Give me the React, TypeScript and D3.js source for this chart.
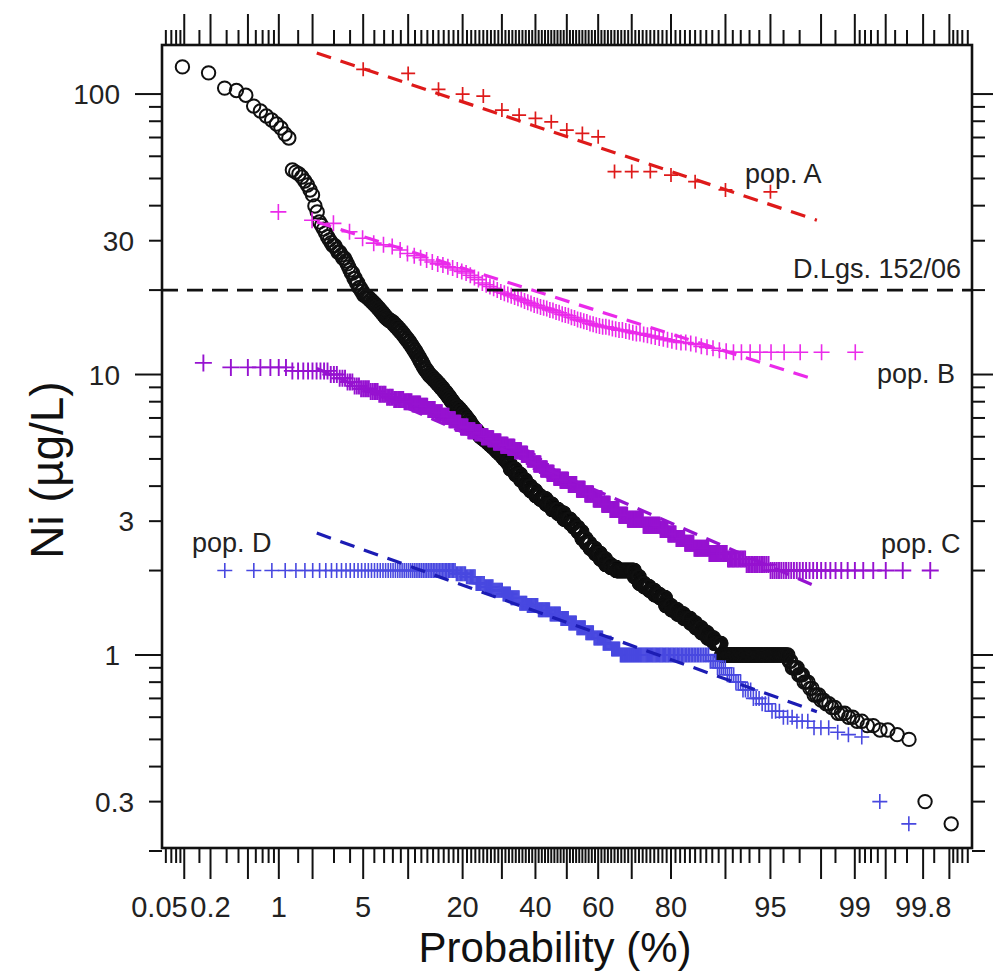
import React, { useEffect } from 'react';
import * as d3 from 'd3';

// ---------------- DATA ----------------
// Each series is ranked from the largest value; plotting position p = i / (N + 1)
// [value (µg/L), number of samples with that value]
const allSamples: [number, number][] = [
  [125, 1], [119, 1], [105, 1], [103, 1], [99, 1], [90.6, 1], [87, 1], [83.5, 1], [80.8, 1], [78.2, 1], [75.7, 1], [72, 1], [69.7, 1],
  [53.6, 1], [52.7, 1], [51.9, 1], [50.6, 1], [49, 1], [47.4, 1], [45.5, 1], [43.7, 1], [39.9, 1], [38, 1],
  [35, 1], [34, 1], [33, 1], [32, 1], [31, 1], [30.2, 1],
  [29.5, 1], [28.8, 2], [28, 1], [27.3, 2], [26.7, 1], [26, 2], [25.4, 1], [24.8, 1], [24.2, 1], [23.6, 1],
  [23, 2], [22, 2], [21.2, 2], [20.4, 2], [19.8, 2], [19.2, 2],
  [19, 2], [18.7, 2], [18.4, 2], [18.1, 2], [17.8, 2], [17.5, 2], [17.2, 2], [16.9, 2], [16.6, 2], [16.3, 2], [16, 2], [15.8, 2], [15.6, 3],
  [15.4, 3], [15.1, 3], [14.8, 3], [14.5, 3], [14.2, 3], [13.9, 3], [13.6, 3], [13.3, 3], [13, 3],
  [12.7, 3], [12.4, 3], [12.1, 3], [11.8, 3], [11.5, 3], [11.2, 3], [10.9, 3], [10.6, 3], [10.4, 3], [10.2, 3], [10, 3],
  [9.85, 4], [9.7, 3], [9.55, 4], [9.4, 3], [9.25, 4], [9.1, 3], [8.95, 4], [8.8, 3], [8.65, 4], [8.5, 3], [8.35, 4], [8.2, 3], [8.05, 4], [7.9, 3], [7.8, 3],
  [7.7, 5], [7.55, 5], [7.4, 5], [7.25, 5], [7.1, 5], [6.95, 5], [6.8, 5], [6.65, 4], [6.5, 5], [6.4, 4], [6.3, 5], [6.2, 4], [6.1, 4],
  [6, 7], [5.9, 7], [5.8, 7], [5.7, 6], [5.6, 7], [5.5, 7], [5.4, 6], [5.3, 7], [5.2, 7], [5.1, 6], [5, 7], [4.9, 6], [4.8, 6],
  [4.6, 16], [4.4, 16], [4.2, 16], [4, 16], [3.85, 16], [3.7, 15],
  [3.6, 20], [3.45, 20], [3.3, 20], [3.2, 20], [3.05, 21],
  [2.95, 13], [2.85, 14], [2.75, 13], [2.6, 14], [2.5, 13],
  [2.4, 17], [2.3, 17], [2.2, 17], [2.1, 17], [2.05, 17],
  [2, 55],
  [1.9, 14], [1.8, 14], [1.75, 14], [1.7, 14], [1.64, 14],
  [1.6, 14], [1.5, 14], [1.45, 14], [1.4, 14], [1.35, 14],
  [1.3, 11], [1.25, 11], [1.2, 11], [1.15, 11], [1.1, 12],
  [1, 73],
  [0.95, 2], [0.9, 4], [0.85, 3], [0.8, 3], [0.76, 2], [0.72, 3], [0.69, 2], [0.67, 2], [0.65, 2], [0.62, 3],
  [0.6, 2], [0.58, 2], [0.56, 2], [0.54, 2], [0.52, 1], [0.5, 1],
  [0.3, 1], [0.25, 1],
];

const popA: number[] = [
  122.5, 118.5, 104, 100, 98.4, 87.7, 84.1, 81.9, 79.6, 74.4,
  72.4, 70.4, 52.9, 52.9, 52.9, 51.4, 48.7, 45.5, 44.8,
];

const popB: number[] = [
  38, 35.5, 34.6, 32.3, 30.6, 29.4, 29, 28.6, 27.8, 27,
  26.5, 26.1, 25.6, 25.2, 24.8, 24.6, 24.2, 24, 23.6, 23.3,
  23, 22.6, 22.2, 21.8, 21.2, 20.9, 20.6, 20.3, 20, 19.7,
  19.5, 19.3, 19.1, 18.9, 18.7, 18.5, 18.3, 18.1, 17.9, 17.7,
  17.6, 17.4, 17.3, 17.2, 17, 16.9, 16.7, 16.6, 16.4, 16.3,
  16.2, 16, 15.9, 15.7, 15.6, 15.5, 15.4, 15.2, 15.1, 15,
  14.9, 14.8, 14.8, 14.7, 14.6, 14.5, 14.4, 14.4, 14.3, 14.2,
  14.1, 14, 14, 13.9, 13.8, 13.7, 13.6, 13.5, 13.4, 13.3,
  13.2, 13.1, 13, 13, 12.9, 12.8, 12.6, 12.5, 12.4, 12.2,
  12.1, 12, 12, 12, 12, 12, 12, 12, 12, 12,
];

const popC: [number, number][] = [
  [11, 1], [10.6, 6], [10.3, 9],
  [10, 3], [9.7, 3], [9.4, 3], [9.1, 3],
  [8.9, 5], [8.7, 5], [8.5, 5], [8.3, 5],
  [8.15, 8], [8, 7], [7.85, 8], [7.7, 7],
  [7.5, 8], [7.3, 8], [7.1, 8], [6.9, 8], [6.7, 7],
  [6.5, 10], [6.3, 10], [6.2, 10], [6, 10], [5.9, 9],
  [5.75, 12], [5.6, 12], [5.5, 12], [5.35, 12], [5.2, 11],
  [5, 12], [4.8, 13], [4.6, 12], [4.45, 13], [4.3, 12],
  [4.2, 16], [4.05, 16], [3.9, 16], [3.75, 16],
  [3.6, 16], [3.45, 15], [3.3, 16], [3.15, 15],
  [3.05, 26], [2.9, 26],
  [2.8, 11], [2.7, 11], [2.6, 11], [2.5, 11],
  [2.4, 16], [2.3, 17],
  [2.2, 14], [2.1, 14],
  [2, 30],
];

const popD: [number, number][] = [
  [2, 64], [1.95, 8], [1.9, 8], [1.8, 8], [1.75, 8], [1.7, 9], [1.65, 8], [1.6, 9], [1.53, 8],
  [1.5, 12], [1.45, 13], [1.4, 12], [1.35, 9], [1.3, 9], [1.25, 10], [1.2, 9], [1.15, 10], [1.1, 9], [1.05, 9],
  [1, 73], [0.95, 4], [0.9, 5], [0.85, 4], [0.8, 3], [0.75, 4], [0.7, 3], [0.67, 3], [0.63, 3], [0.6, 3],
  [0.58, 3], [0.55, 3], [0.53, 1], [0.52, 1], [0.51, 1], [0.3, 1], [0.25, 1],
];

// fitted log-normal lines: [probability %, value]
const fitA: [number, number][] = [[2.17, 140], [97.83, 35.5]];
const fitB: [number, number][] = [[2.17, 35], [97.83, 9.55]];
const fitC: [number, number][] = [[2.17, 10.5], [97.83, 1.75]];
const fitD: [number, number][] = [[2.17, 2.72], [97.83, 0.628]];

const limitValue = 20;
const limitLabel = 'D.Lgs. 152/06';

const xLabelValues = [0.05, 0.2, 1, 5, 20, 40, 60, 80, 95, 99, 99.8];
const xLabelTexts = ['0.05', '0.2', '1', '5', '20', '40', '60', '80', '95', '99', '99.8'];
const xMajorTicks = [0.1, 0.2, 0.5, 1, 2, 5, 10, 20, 30, 40, 50, 60, 70, 80, 90, 95, 98, 99, 99.5, 99.8, 99.9];
const xMinorBase = [0.06, 0.07, 0.08, 0.09, 0.15, 0.3, 0.4, 0.6, 0.7, 0.8, 0.9, 1.5, 3, 4, 6, 7, 8, 9,
  91, 92, 93, 94, 96, 97, 98.5, 99.1, 99.2, 99.3, 99.4, 99.6, 99.7, 99.85, 99.91, 99.92, 99.93, 99.94];
const yLabelValues = [100, 30, 10, 3, 1, 0.3];
const yLabelTexts = ['100', '30', '10', '3', '1', '0.3'];
const yMajorTicks = [100, 10, 1];
const yMinorTicks = [0.2, 0.3, 0.4, 0.5, 0.6, 0.7, 0.8, 0.9, 2, 3, 4, 5, 6, 7, 8, 9, 20, 30, 40, 50, 60, 70, 80, 90];

// ---------------- helpers ----------------
function probit(p: number): number {
  const a = [-3.969683028665376e1, 2.209460984245205e2, -2.759285104469687e2, 1.38357751867269e2, -3.066479806614716e1, 2.506628277459239];
  const b = [-5.447609879822406e1, 1.615858368580409e2, -1.556989798598866e2, 6.680131188771972e1, -1.328068155288572e1];
  const c = [-7.784894002430293e-3, -3.223964580411365e-1, -2.400758277161838, -2.549732539343734, 4.374664141464968, 2.938163982698783];
  const d = [7.784695709041462e-3, 3.224671290700398e-1, 2.445134137142996, 3.754408661907416];
  const plow = 0.02425;
  if (p < plow) {
    const q = Math.sqrt(-2 * Math.log(p));
    return (((((c[0] * q + c[1]) * q + c[2]) * q + c[3]) * q + c[4]) * q + c[5]) / ((((d[0] * q + d[1]) * q + d[2]) * q + d[3]) * q + 1);
  }
  if (p > 1 - plow) {
    const q = Math.sqrt(-2 * Math.log(1 - p));
    return -(((((c[0] * q + c[1]) * q + c[2]) * q + c[3]) * q + c[4]) * q + c[5]) / ((((d[0] * q + d[1]) * q + d[2]) * q + d[3]) * q + 1);
  }
  const q = p - 0.5;
  const r = q * q;
  return (((((a[0] * r + a[1]) * r + a[2]) * r + a[3]) * r + a[4]) * r + a[5]) * q /
    (((((b[0] * r + b[1]) * r + b[2]) * r + b[3]) * r + b[4]) * r + 1);
}

function rankPoints(groups: [number, number][]): { p: number; v: number }[] {
  const n = d3.sum(groups, (g) => g[1]);
  const out: { p: number; v: number }[] = [];
  let i = 0;
  groups.forEach(([v, c]) => {
    for (let k = 0; k < c; k++) {
      i += 1;
      out.push({ p: (100 * i) / (n + 1), v });
    }
  });
  return out;
}
const listToGroups = (vals: number[]): [number, number][] => vals.map((v) => [v, 1]);

// ---------------- layout ----------------
const W = 993;
const H = 974;
const L = 162, R = 972, T = 45, B = 848;
const FONT = "'Liberation Sans', Arial, Helvetica, sans-serif";

const zScale = d3.scaleLinear().domain([-3.27, 3.273]).range([L, R]);
const xOf = (pct: number) => zScale(probit(pct / 100));
const yScale = d3.scaleLog().domain([0.205, 149.6]).range([B, T]);

const COL = {
  all: '#101010',
  A: '#de1a1a',
  B: '#ea2aea',
  C: '#9612d0',
  D: '#4848e0',
};

const crossPath = (s: number) => `M${-s},0H${s}M0,${-s}V${s}`;

export default function App() {
  useEffect(() => {
    document.body.style.margin = '0';
  }, []);

  const ptsAll = rankPoints(allSamples);
  const ptsA = rankPoints(listToGroups(popA));
  const ptsB = rankPoints(listToGroups(popB));
  const ptsC = rankPoints(popC);
  const ptsD = rankPoints(popD);

  const line = d3.line<[number, number]>().x((d) => xOf(d[0])).y((d) => yScale(d[1]));

  const xMinor = [...xMinorBase, ...d3.range(11, 90).filter((v) => v % 10 !== 0)];

  const fmtPt = (p: { p: number; v: number }) => `translate(${xOf(p.p).toFixed(2)},${yScale(p.v).toFixed(2)})`;

  return (
    <svg width={W} height={H} style={{ position: 'absolute', left: 0, top: 0, background: '#fff' }} fontFamily={FONT}>
      <rect x={0} y={0} width={W} height={H} fill="#fff" />
      {/* all samples, open circles */}
      <g fill="none" stroke={COL.all} strokeWidth={2}>
        {ptsAll.map((p, i) => (
          <circle key={i} r={6.7} transform={fmtPt(p)} />
        ))}
      </g>
      {/* pop D */}
      <g stroke={COL.D} strokeWidth={1.6} fill="none">
        {ptsD.map((p, i) => (
          <path key={i} d={crossPath(7.5)} transform={fmtPt(p)} />
        ))}
      </g>
      {/* pop C */}
      <g stroke={COL.C} strokeWidth={1.9} fill="none">
        {ptsC.map((p, i) => (
          <path key={i} d={crossPath(8.5)} transform={fmtPt(p)} />
        ))}
      </g>
      {/* pop B */}
      <g stroke={COL.B} strokeWidth={1.6} fill="none">
        {ptsB.map((p, i) => (
          <path key={i} d={crossPath(8)} transform={fmtPt(p)} />
        ))}
      </g>
      {/* pop A */}
      <g stroke={COL.A} strokeWidth={1.7} fill="none">
        {ptsA.map((p, i) => (
          <path key={i} d={crossPath(7)} transform={fmtPt(p)} />
        ))}
      </g>

      {/* fitted lines */}
      <g fill="none" strokeWidth={3.2} strokeDasharray="15 10">
        <path d={line(fitD) || ''} stroke="#1c1cb4" />
        <path d={line(fitC) || ''} stroke={COL.C} />
        <path d={line(fitB) || ''} stroke={COL.B} />
        <path d={line(fitA) || ''} stroke={COL.A} />
      </g>

      {/* limit line */}
      <line x1={L} x2={R} y1={yScale(limitValue)} y2={yScale(limitValue)} stroke="#111" strokeWidth={2.6} strokeDasharray="16 9" />
      <text x={961} y={yScale(limitValue) - 12} textAnchor="end" fontSize={27} fill="#222">{limitLabel}</text>

      {/* population labels */}
      <g fontSize={27} fill="#222">
        <text x={745} y={183}>pop. A</text>
        <text x={877} y={383}>pop. B</text>
        <text x={881} y={553}>pop. C</text>
        <text x={192} y={552}>pop. D</text>
      </g>

      {/* frame */}
      <rect x={L} y={T} width={R - L} height={B - T} fill="none" stroke="#111" strokeWidth={2.6} />

      {/* ticks */}
      <g stroke="#111" strokeWidth={2}>
        {xMajorTicks.map((t) => (
          <g key={'xm' + t}>
            <line x1={xOf(t)} x2={xOf(t)} y1={T} y2={T - 31} />
            <line x1={xOf(t)} x2={xOf(t)} y1={B} y2={B + 31} />
          </g>
        ))}
        {xMinor.map((t) => (
          <g key={'xn' + t}>
            <line x1={xOf(t)} x2={xOf(t)} y1={T} y2={T - 15} />
            <line x1={xOf(t)} x2={xOf(t)} y1={B} y2={B + 15} />
          </g>
        ))}
        {yMajorTicks.map((t) => (
          <g key={'ym' + t}>
            <line x1={L} x2={L - 27} y1={yScale(t)} y2={yScale(t)} />
            <line x1={R} x2={R + 27} y1={yScale(t)} y2={yScale(t)} />
          </g>
        ))}
        {yMinorTicks.map((t) => (
          <g key={'yn' + t}>
            <line x1={L} x2={L - 13} y1={yScale(t)} y2={yScale(t)} />
            <line x1={R} x2={R + 13} y1={yScale(t)} y2={yScale(t)} />
          </g>
        ))}
      </g>

      {/* tick labels */}
      <g fontSize={29} fill="#222" textAnchor="middle">
        {xLabelValues.map((t, i) => (
          <text key={'xl' + t} x={xOf(t)} y={917}>{xLabelTexts[i]}</text>
        ))}
      </g>
      <g fontSize={28} fill="#222" textAnchor="end">
        {yLabelValues.map((t, i) => (
          <text key={'yl' + t} x={yMajorTicks.includes(t) ? L - 27 - 15 : L - 13 - 15} y={yScale(t)} dy="0.36em">
            {yLabelTexts[i]}
          </text>
        ))}
      </g>

      {/* axis titles */}
      <text x={555} y={962} textAnchor="middle" fontSize={42} fill="#111">Probability (%)</text>
      <text transform="translate(63,470) rotate(-90)" textAnchor="middle" fontSize={46} fill="#111">Ni (µg/L)</text>
    </svg>
  );
}
